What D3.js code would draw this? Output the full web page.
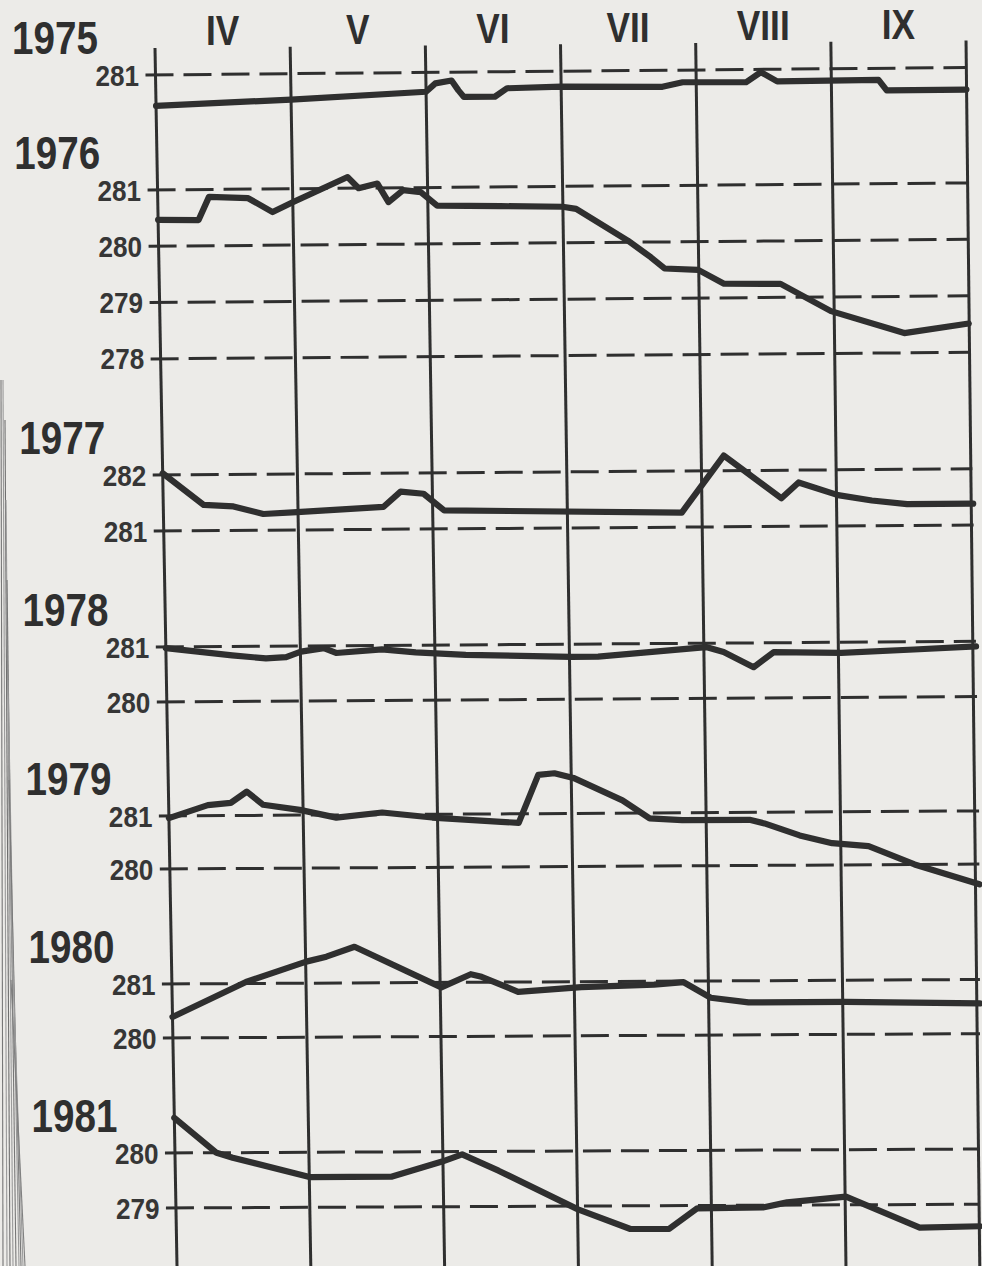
<!DOCTYPE html>
<html><head><meta charset="utf-8">
<script src="https://cdn.jsdelivr.net/npm/d3@7"></script>
<style>html,body{margin:0;padding:0;background:#ecebe8;} svg{display:block}</style>
</head><body><svg id="c" width="982" height="1266"></svg>
<script>
// ---------- data ----------
const months = ["IV","V","VI","VII","VIII","IX"];
const years = ["1975","1976","1977","1978","1979","1980","1981"];
const ticks1975 = [281];
const ticks1976 = [281,280,279,278];
const ticks1977 = [282,281];
const ticks1978 = [281,280];
const ticks1979 = [281,280];
const ticks1980 = [281,280];
const ticks1981 = [280,279];
// [month position (0 = start of IV, 6 = end of IX), value]
const series1975 = [[0,280.44],[1,280.53],[2,280.65],[2.07,280.8],[2.19,280.85],[2.24,280.67],[2.28,280.55],[2.51,280.55],[2.6,280.7],[3,280.72],[3.75,280.7],[3.9,280.78],[4.37,280.77],[4.48,280.95],[4.6,280.78],[5.35,280.79],[5.41,280.6],[6,280.6]];
const series1976 = [[0,280.47],[0.3,280.46],[0.38,280.87],[0.67,280.84],[0.85,280.59],[1.0,280.76],[1.41,281.2],[1.49,281.0],[1.63,281.08],[1.71,280.75],[1.82,280.96],[1.95,280.92],[2.07,280.68],[2.54,280.66],[3.0,280.64],[3.1,280.6],[3.48,280.03],[3.65,279.73],[3.75,279.53],[4.0,279.5],[4.19,279.25],[4.61,279.24],[4.98,278.75],[5.52,278.35],[6,278.51]];
const series1977 = [[0,282.03],[0.3,281.46],[0.52,281.43],[0.74,281.29],[0.99,281.32],[1.63,281.4],[1.76,281.67],[1.93,281.63],[2.08,281.33],[3.84,281.26],[4.16,282.27],[4.58,281.5],[4.71,281.78],[5.0,281.55],[5.25,281.45],[5.51,281.38],[6,281.38]];
const series1978 = [[0,280.98],[0.49,280.84],[0.74,280.78],[0.89,280.8],[1.0,280.9],[1.17,280.96],[1.26,280.87],[1.6,280.93],[1.85,280.87],[2.22,280.82],[3.0,280.77],[3.2,280.77],[4.0,280.93],[4.13,280.84],[4.35,280.56],[4.5,280.83],[5.0,280.81],[5.54,280.86],[6,280.91]];
const series1979 = [[0,280.96],[0.29,281.2],[0.46,281.24],[0.58,281.45],[0.7,281.2],[0.97,281.1],[1.24,280.95],[1.58,281.04],[1.95,280.94],[2.46,280.85],[2.59,280.83],[2.74,281.73],[2.86,281.76],[3.0,281.67],[3.36,281.24],[3.56,280.9],[3.8,280.86],[4.3,280.86],[4.41,280.79],[4.67,280.56],[4.91,280.41],[5.18,280.35],[5.52,280.0],[6,279.62]];
const series1980 = [[0,280.39],[0.55,281.03],[1.0,281.4],[1.15,281.49],[1.36,281.67],[2.0,280.91],[2.22,281.15],[2.3,281.1],[2.57,280.82],[3.04,280.9],[3.58,280.94],[3.8,280.98],[4.0,280.69],[4.28,280.6],[5.0,280.6],[6,280.56]];
const series1981 = [[0,280.64],[0.31,280.0],[0.43,279.91],[1.0,279.55],[1.61,279.55],[1.99,279.82],[2.14,279.95],[2.41,279.65],[3.0,278.94],[3.39,278.58],[3.68,278.58],[3.89,278.95],[4.38,278.96],[4.56,279.05],[5.0,279.15],[5.55,278.58],[6,278.6]];

const allTicks = [ticks1975,ticks1976,ticks1977,ticks1978,ticks1979,ticks1980,ticks1981];
const allSeries = [series1975,series1976,series1977,series1978,series1979,series1980,series1981];

// ---------- layout (positions only) ----------
const panelRows = [[75,130],[190,246.3],[475,531],[647,702],[816,869],[984,1038],[1153,1208]];
const INK = "#2f2f2f";

// slight scan warp: page is rotated / skewed a little
const xLeft = d3.scaleLinear().domain([48,1266]).range([155,177]);
const xRight = d3.scaleLinear().domain([45,300,500,800,1000,1266]).range([966,968,973,979,980,980]).clamp(true);
const tilt = d3.scaleLinear().domain([75,1208]).range([7.5,3.8]);
function warp(u, py){
  const xl = xLeft(py), xr = xRight(py);
  return [xl + u*(xr-xl), py - u*tilt(py)];
}
const xMonth = d3.scaleLinear().domain([0,6]).range([0,1]);
const BOLD = "'Liberation Sans', Arial, sans-serif";

const svg = d3.select("#c");
svg.append("rect").attr("width",982).attr("height",1266).attr("fill","#ecebe8");

// binding stripes at left edge
const stripes = [[1,380,3,1266,"#777"],[3,380,7,1266,"#999"],[5,420,10,1266,"#6f6f6f"],[6,500,13,1266,"#9a9a9a"],[7,580,16,1266,"#777"],[8,680,19,1266,"#999"],[9,780,21,1266,"#7a7a7a"],[10,880,23,1266,"#9c9c9c"],[11,980,25,1266,"#808080"]];
svg.append("g").selectAll("line").data(stripes).join("line")
  .attr("x1",d=>d[0]).attr("y1",d=>d[1]).attr("x2",d=>d[2]).attr("y2",d=>d[3])
  .attr("stroke",d=>d[4]).attr("stroke-width",1.1);

const g = svg.append("g");

// vertical month boundary lines
g.append("g").selectAll("line").data(d3.range(7)).join("line")
  .each(function(i){
    const a = warp(xMonth(i), 48), b = warp(xMonth(i), 1290);
    d3.select(this).attr("x1",a[0]).attr("y1",a[1]).attr("x2",b[0]).attr("y2",b[1]);
  })
  .attr("stroke",INK).attr("stroke-width",3);

// month labels
g.append("g").selectAll("text").data(months).join("text")
  .attr("transform",(m,i)=>{ const p = warp(xMonth(i+0.5), 46); return `translate(${p[0]},${p[1]}) scale(0.84,1)`; })
  .attr("text-anchor","middle")
  .attr("font-family",BOLD).attr("font-weight","bold").attr("font-size",42).attr("fill",INK)
  .text(d=>d);

// panels
allSeries.forEach((series, k) => {
  const ticks = allTicks[k];
  const rows = panelRows[k];
  const y = d3.scaleLinear().domain([ticks[0], ticks[0]-1]).range(rows);
  const pg = g.append("g");

  // dashed gridlines with tick stub
  pg.selectAll("line.grid").data(ticks).join("line").attr("class","grid")
    .each(function(v){
      const py = y(v);
      const a = [xLeft(py)-10, py], b = warp(1, py);
      d3.select(this).attr("x1",a[0]).attr("y1",a[1]).attr("x2",b[0]).attr("y2",b[1]);
    })
    .attr("stroke",INK).attr("stroke-width",3).attr("stroke-dasharray","28,10");

  // tick labels
  pg.selectAll("text.tick").data(ticks).join("text").attr("class","tick")
    .attr("transform",v=>`translate(${xLeft(y(v))-60},${y(v)+10.5}) scale(0.9,1)`)
    .attr("font-family",BOLD).attr("font-weight","bold")
    .attr("font-size",29).attr("fill","#363636").text(v=>v);

  // year label
  const yr = y(ticks[0]) - 21;
  pg.append("text").attr("transform",`translate(${xLeft(yr)-143},${yr}) scale(0.84,1)`)
    .attr("font-family",BOLD).attr("font-weight","bold").attr("font-size",46).attr("fill",INK)
    .text(years[k]);

  // the curve
  const line = d3.line()
    .x(d => warp(xMonth(d[0]), y(d[1]))[0])
    .y(d => warp(xMonth(d[0]), y(d[1]))[1]);
  pg.append("path").datum(series).attr("d",line)
    .attr("fill","none").attr("stroke",INK).attr("stroke-width",6.2)
    .attr("stroke-linejoin","round").attr("stroke-linecap","round");
});
</script>
</body></html>
